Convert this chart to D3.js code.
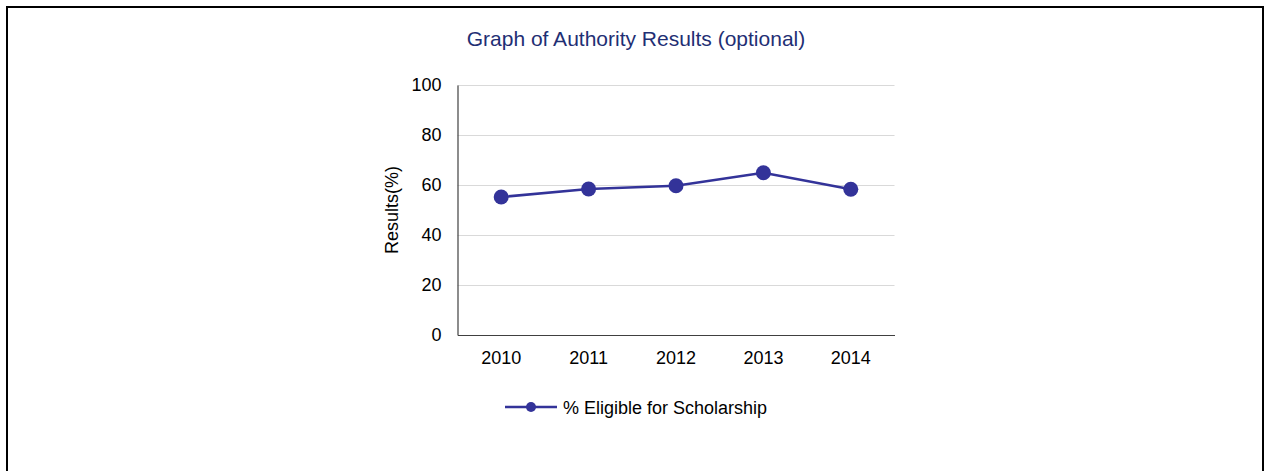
<!DOCTYPE html>
<html>
<head>
<meta charset="utf-8">
<script src="https://cdn.jsdelivr.net/npm/d3@7"></script>
<style>
  html, body { margin: 0; padding: 0; background: #fff; }
  svg { display: block; font-family: "Liberation Sans", Arial, sans-serif; }
</style>
</head>
<body>
<svg id="chart" width="1264" height="471"></svg>
<script>
// Chart data
const years = ["2010", "2011", "2012", "2013", "2014"];
const eligible = [55.2, 58.4, 59.7, 64.9, 58.3];
const yTicks = [0, 20, 40, 60, 80, 100];
const seriesName = "% Eligible for Scholarship";
const chartTitle = "Graph of Authority Results (optional)";
const yTitle = "Results(%)";

const lineColor = "#333399";
const svg = d3.select("#chart");

// Outer frame
svg.append("rect")
  .attr("x", 7).attr("y", 7)
  .attr("width", 1256).attr("height", 470)
  .attr("fill", "none").attr("stroke", "#000").attr("stroke-width", 2);

const plot = { left: 457.5, right: 894.5, top: 85, bottom: 335 };

const x = d3.scaleBand().domain(years).range([plot.left, plot.right]);
const y = d3.scaleLinear().domain([0, 100]).range([plot.bottom, plot.top]);

// Horizontal gridlines
svg.append("g")
  .selectAll("line")
  .data(yTicks.filter(t => t > 0))
  .join("line")
  .attr("x1", plot.left).attr("x2", plot.right)
  .attr("y1", d => Math.round(y(d)) + 0.5).attr("y2", d => Math.round(y(d)) + 0.5)
  .attr("stroke", "#d9d9d9").attr("stroke-width", 1);

// Y axis
const yAxis = svg.append("g")
  .attr("transform", `translate(${plot.left},0)`)
  .call(d3.axisLeft(y).tickValues(yTicks).tickSize(0).tickPadding(16));
yAxis.select(".domain").attr("stroke", "#404040").attr("stroke-width", 1.2);
yAxis.selectAll("text").attr("font-size", 18).attr("fill", "#000")
  .attr("font-family", "Liberation Sans, Arial, sans-serif");

// X axis
const xAxis = svg.append("g")
  .attr("transform", `translate(0,${plot.bottom})`)
  .call(d3.axisBottom(x).tickSize(0).tickPadding(16));
xAxis.select(".domain").attr("stroke", "#404040").attr("stroke-width", 1.2);
xAxis.selectAll("text").attr("font-size", 18).attr("fill", "#000")
  .attr("font-family", "Liberation Sans, Arial, sans-serif");

// Title
svg.append("text")
  .attr("x", 636).attr("y", 46)
  .attr("text-anchor", "middle")
  .attr("font-size", 21)
  .attr("fill", "#1f2f74")
  .text(chartTitle);

// Y axis title
svg.append("text")
  .attr("transform", `translate(398,${(plot.top + plot.bottom) / 2}) rotate(-90)`)
  .attr("text-anchor", "middle")
  .attr("font-size", 18)
  .attr("fill", "#000")
  .text(yTitle);

// Series line and markers
const pts = years.map((yr, i) => ({ yr, v: eligible[i] }));
const cx = d => x(d.yr) + x.bandwidth() / 2;

svg.append("path")
  .datum(pts)
  .attr("fill", "none")
  .attr("stroke", lineColor)
  .attr("stroke-width", 2.5)
  .attr("d", d3.line().x(cx).y(d => y(d.v)));

svg.append("g")
  .selectAll("circle")
  .data(pts)
  .join("circle")
  .attr("cx", cx).attr("cy", d => y(d.v))
  .attr("r", 7.5)
  .attr("fill", lineColor);

// Legend
const lg = svg.append("g").attr("transform", "translate(505,407)");
lg.append("line").attr("x1", 0).attr("x2", 52).attr("y1", 0).attr("y2", 0)
  .attr("stroke", lineColor).attr("stroke-width", 2.5);
lg.append("circle").attr("cx", 26).attr("cy", 0).attr("r", 5).attr("fill", lineColor);
lg.append("text").attr("x", 58).attr("y", 6.5)
  .attr("font-size", 18).attr("fill", "#000")
  .text(seriesName);
</script>
</body>
</html>
